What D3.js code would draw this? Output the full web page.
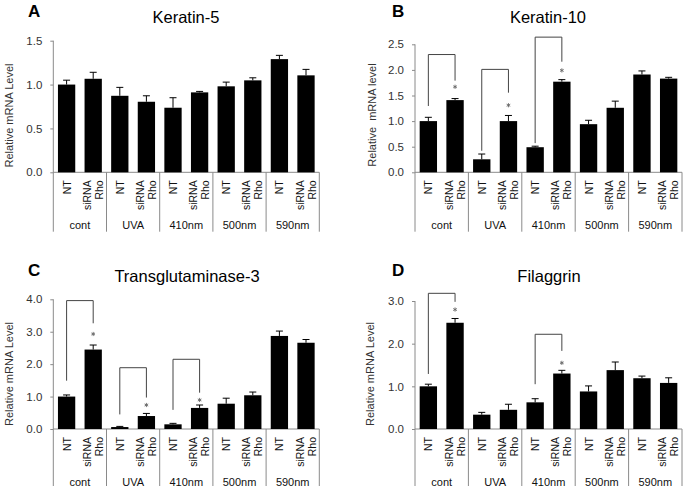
<!DOCTYPE html>
<html>
<head>
<meta charset="utf-8">
<script src="https://cdn.jsdelivr.net/npm/d3@7/dist/d3.min.js"></script>
<style>
  html, body { margin: 0; padding: 0; background: #fff; }
  svg { display: block; font-family: "Liberation Sans", Arial, sans-serif; }
</style>
</head>
<body>
<svg id="chart" width="686" height="493"></svg>
<script>
// ---------- data ----------
const groups = ["cont", "UVA", "410nm", "500nm", "590nm"];
const treatments = ["NT", "siRNA Rho"];

const k5Mean = [1.00, 1.066, 0.872, 0.804, 0.736, 0.911, 0.98, 1.048, 1.29, 1.105];
const k5Err  = [0.05, 0.074, 0.096, 0.068, 0.114, 0.011, 0.048, 0.029, 0.043, 0.068];

const k10Mean = [1.00, 1.41, 0.254, 1.00, 0.49, 1.77, 0.94, 1.26, 1.91, 1.83];
const k10Err  = [0.074, 0.03, 0.103, 0.11, 0.02, 0.04, 0.076, 0.13, 0.07, 0.025];

const tg3Mean = [1.00, 2.45, 0.06, 0.40, 0.144, 0.65, 0.78, 1.04, 2.87, 2.66];
const tg3Err  = [0.05, 0.14, 0.02, 0.08, 0.03, 0.09, 0.17, 0.10, 0.15, 0.10];

const flgMean = [1.00, 2.49, 0.336, 0.45, 0.625, 1.30, 0.88, 1.38, 1.19, 1.08];
const flgErr  = [0.05, 0.10, 0.054, 0.13, 0.085, 0.075, 0.13, 0.19, 0.05, 0.12];

const k5Ticks  = [0, 0.5, 1.0, 1.5];
const k10Ticks = [0, 0.5, 1.0, 1.5, 2.0, 2.5];
const tg3Ticks = [0, 1, 2, 3, 4];
const flgTicks = [0, 1, 2, 3];

// significance brackets: [group index, bracket top, left foot, right foot, asterisk level]
const k5Sig  = [];
const k10Sig = [[0, 2.30, 1.295, 1.79, 1.67], [1, 2.01, 0.42, 1.555, 1.31], [2, 2.64, 0.57, 2.16, 1.99]];
const tg3Sig = [[0, 3.96, 1.49, 3.26, 2.93], [1, 1.89, 0.45, 0.97, 0.74], [2, 2.15, 0.59, 1.12, 0.895]];
const flgSig = [[0, 3.18, 1.29, 2.98, 2.80], [2, 2.22, 1.05, 1.83, 1.55]];

// ---------- layout ----------
const panels = [
  { letter: "A", title: "Keratin-5", ylabel: "Relative mRNA Level", mean: k5Mean, err: k5Err, ticks: k5Ticks, sig: k5Sig,
    x0: 53.3, x1: 319.3, yBase: 172.3, yTop: 40.7, yBottom: 231.7, ylabX: 12.5, ylabY: 115.5,
    titleX: 186, titleY: 23, letterX: 28, letterY: 17 },
  { letter: "B", title: "Keratin-10", ylabel: "Relative  mRNA level", mean: k10Mean, err: k10Err, ticks: k10Ticks, sig: k10Sig,
    x0: 415, x1: 682, yBase: 172.3, yTop: 44.3, yBottom: 231.7, ylabX: 376, ylabY: 115,
    titleX: 548, titleY: 23, letterX: 392, letterY: 17 },
  { letter: "C", title: "Transglutaminase-3", ylabel: "Relative mRNA Level", mean: tg3Mean, err: tg3Err, ticks: tg3Ticks, sig: tg3Sig,
    x0: 53.3, x1: 319.3, yBase: 429, yTop: 299.3, yBottom: 486, ylabX: 12.5, ylabY: 374,
    titleX: 187, titleY: 282, letterX: 28, letterY: 276 },
  { letter: "D", title: "Filaggrin", ylabel: "Relative mRNA Level", mean: flgMean, err: flgErr, ticks: flgTicks, sig: flgSig,
    x0: 415, x1: 682, yBase: 429, yTop: 301, yBottom: 486, ylabX: 373.5, ylabY: 374,
    titleX: 549, titleY: 282, letterX: 392, letterY: 276 }
];

const svg = d3.select("#chart");
const axisColor = "#8a8a8a";

const barKeys = [];
groups.forEach((g, gi) => treatments.forEach((t, ti) => barKeys.push(gi * 2 + ti)));

const star = d3.symbol().type(d3.symbolAsterisk).size(12);

panels.forEach(p => {
  const g = svg.append("g");
  const yMax = p.ticks[p.ticks.length - 1];
  const y = d3.scaleLinear().domain([0, yMax]).range([p.yBase, p.yTop]);
  const x = d3.scaleBand().domain(barKeys).range([p.x0, p.x1]).paddingInner(0.35).paddingOuter(0.175);
  const xg = d3.scaleBand().domain(groups).range([p.x0, p.x1]).padding(0);

  // panel letter & title
  g.append("text").attr("x", p.letterX).attr("y", p.letterY)
    .attr("font-size", 17).attr("font-weight", "bold").attr("fill", "#000").text(p.letter);
  g.append("text").attr("x", p.titleX).attr("y", p.titleY).attr("text-anchor", "middle")
    .attr("font-size", 16.5).attr("fill", "#000").text(p.title);

  // y axis
  const yAxis = d3.axisLeft(y).tickValues(p.ticks).tickFormat(d3.format(".1f")).tickSize(3).tickPadding(8);
  const ya = g.append("g").attr("transform", `translate(${p.x0},0)`).call(yAxis);
  ya.select(".domain").remove();
  ya.selectAll(".tick line").attr("stroke", axisColor);
  ya.selectAll(".tick text").attr("font-size", 11.5).attr("fill", "#333").attr("font-family", "Liberation Sans, Arial, sans-serif");
  g.append("line").attr("x1", p.x0).attr("x2", p.x0).attr("y1", y(yMax)).attr("y2", p.yBottom).attr("stroke", axisColor);

  // y label
  g.append("text").attr("transform", `translate(${p.ylabX},${p.ylabY}) rotate(-90)`)
    .attr("text-anchor", "middle").attr("font-size", 11).attr("fill", "#333")
    .style("white-space", "pre").text(p.ylabel);

  // baseline and group separators
  g.append("line").attr("x1", p.x0).attr("x2", p.x1).attr("y1", p.yBase).attr("y2", p.yBase).attr("stroke", axisColor);
  groups.forEach(gr => {
    const xr = xg(gr) + xg.bandwidth();
    g.append("line").attr("x1", xr).attr("x2", xr).attr("y1", p.yBase).attr("y2", p.yBottom).attr("stroke", axisColor);
    g.append("text").attr("x", xg(gr) + xg.bandwidth() / 2).attr("y", p.yBase + 57)
      .attr("text-anchor", "middle").attr("font-size", 11).attr("fill", "#111").text(gr);
  });

  // bars
  g.selectAll("rect.bar").data(p.mean).enter().append("rect")
    .attr("x", (d, i) => x(i)).attr("width", x.bandwidth())
    .attr("y", d => y(d)).attr("height", d => p.yBase - y(d)).attr("fill", "#000");

  // error bars
  p.mean.forEach((m, i) => {
    const cx = x(i) + x.bandwidth() / 2;
    g.append("line").attr("x1", cx).attr("x2", cx).attr("y1", y(m)).attr("y2", y(m + p.err[i])).attr("stroke", "#000");
    g.append("line").attr("x1", cx - 3.5).attr("x2", cx + 3.5).attr("y1", y(m + p.err[i])).attr("y2", y(m + p.err[i])).attr("stroke", "#000");
  });

  // treatment labels (rotated)
  barKeys.forEach(i => {
    const cx = x(i) + x.bandwidth() / 2;
    const t = treatments[i % 2];
    const ty = p.yBase + 8;
    if (t === "NT") {
      g.append("text").attr("transform", `translate(${cx + 4},${ty}) rotate(-90)`)
        .attr("text-anchor", "end").attr("font-size", 10.5).attr("fill", "#111").text("NT");
    } else {
      const parts = t.split(" ");
      g.append("text").attr("transform", `translate(${cx - 2.5},${ty}) rotate(-90)`)
        .attr("text-anchor", "end").attr("font-size", 10.5).attr("fill", "#111").text(parts[0]);
      g.append("text").attr("transform", `translate(${cx + 9.5},${ty}) rotate(-90)`)
        .attr("text-anchor", "end").attr("font-size", 10.5).attr("fill", "#111").text(parts[1]);
    }
  });

  // significance brackets
  p.sig.forEach(s => {
    const [gi, top, lf, rf, st] = s;
    const xl = x(gi * 2) + x.bandwidth() / 2;
    const xr = x(gi * 2 + 1) + x.bandwidth() / 2;
    g.append("path")
      .attr("d", `M${xl},${y(lf)}V${y(top)}H${xr}V${y(rf)}`)
      .attr("fill", "none").attr("stroke", "#444").attr("stroke-width", 1);
    g.append("path").attr("d", star())
      .attr("transform", `translate(${xr},${y(st)})`)
      .attr("fill", "none").attr("stroke", "#666").attr("stroke-width", 0.9);
  });
});
</script>
</body>
</html>
